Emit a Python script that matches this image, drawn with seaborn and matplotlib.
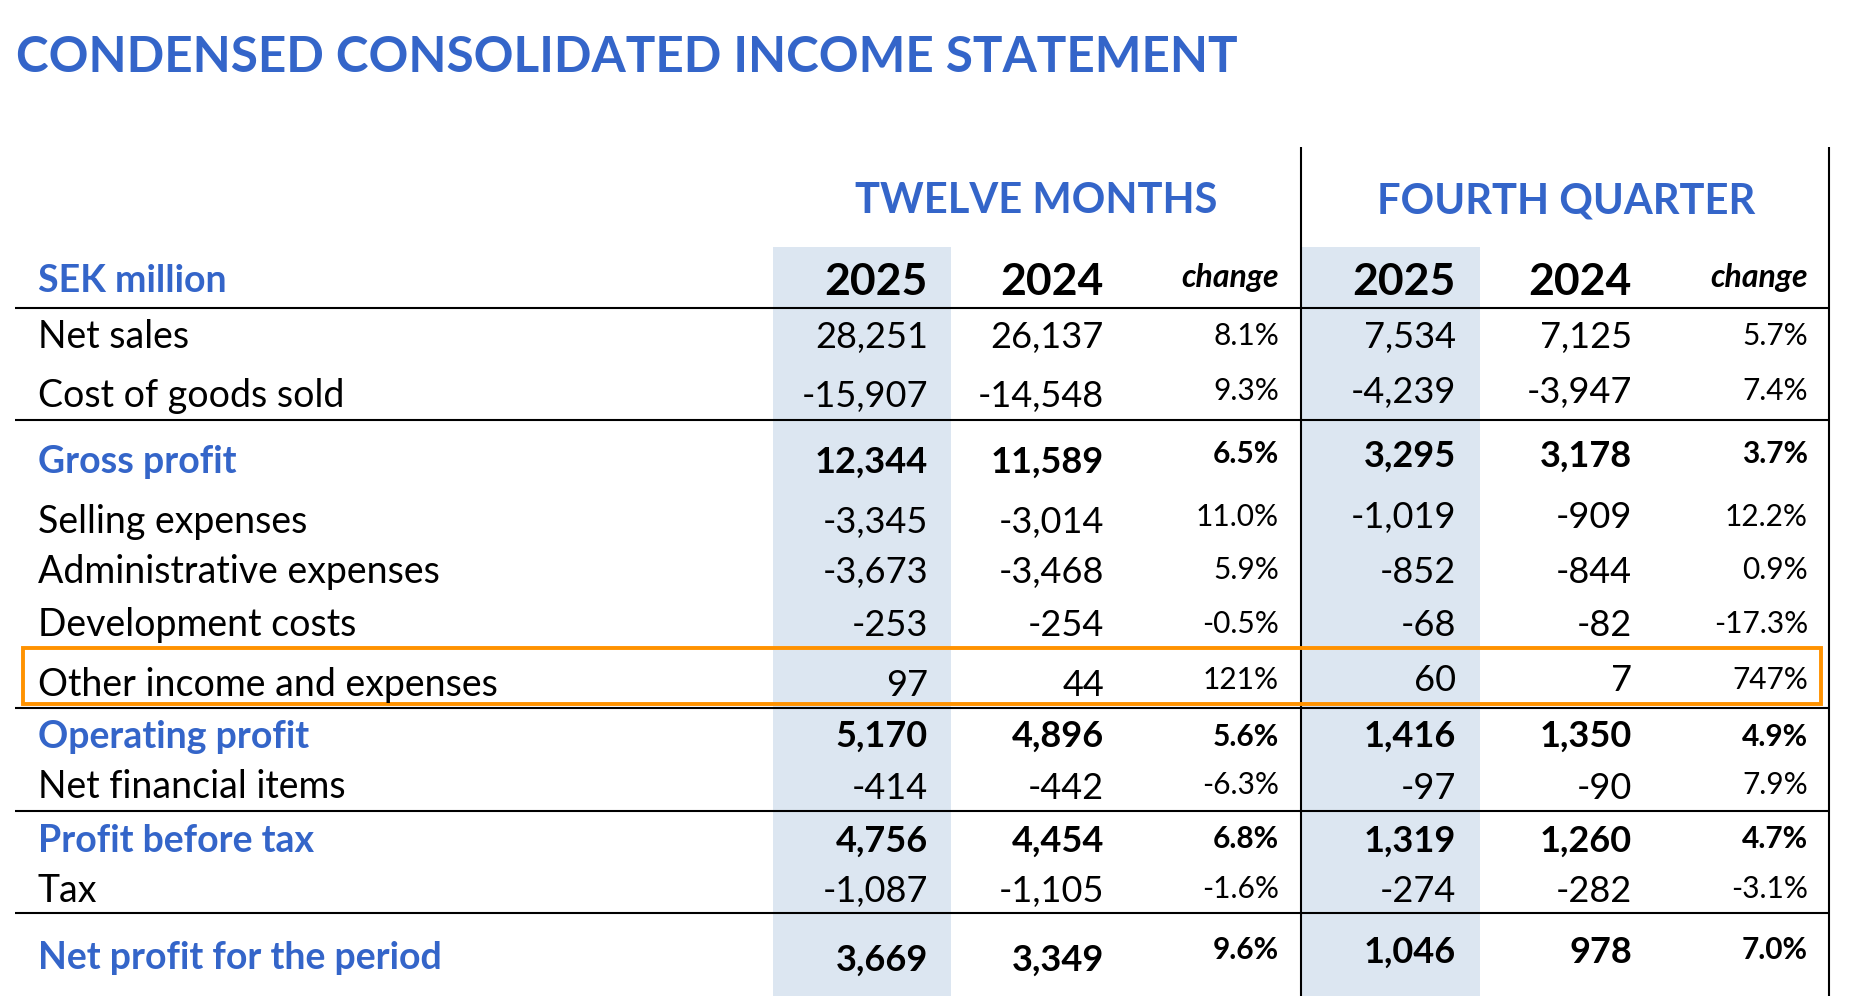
import matplotlib
matplotlib.use("Agg")
import matplotlib.pyplot as plt
import seaborn as sns
from matplotlib.patches import Rectangle

# ---------------- data ----------------
title = "CONDENSED CONSOLIDATED INCOME STATEMENT"
unit_label = "SEK million"
group_labels = ["TWELVE MONTHS", "FOURTH QUARTER"]
year_labels = ["2025", "2024"]
change_label = "change"

row_labels = [
    "Net sales", "Cost of goods sold", "Gross profit", "Selling expenses",
    "Administrative expenses", "Development costs", "Other income and expenses",
    "Operating profit", "Net financial items", "Profit before tax", "Tax",
    "Net profit for the period",
]
row_is_total = [False, False, True, False, False, False, False, True, False, True, False, True]

twelve_2025 = [28251, -15907, 12344, -3345, -3673, -253, 97, 5170, -414, 4756, -1087, 3669]
twelve_2024 = [26137, -14548, 11589, -3014, -3468, -254, 44, 4896, -442, 4454, -1105, 3349]
twelve_change = [8.1, 9.3, 6.5, 11.0, 5.9, -0.5, 121, 5.6, -6.3, 6.8, -1.6, 9.6]
q4_2025 = [7534, -4239, 3295, -1019, -852, -68, 60, 1416, -97, 1319, -274, 1046]
q4_2024 = [7125, -3947, 3178, -909, -844, -82, 7, 1350, -90, 1260, -282, 978]
q4_change = [5.7, 7.4, 3.7, 12.2, 0.9, -17.3, 747, 4.9, 7.9, 4.7, -3.1, 7.0]
highlight_row = "Other income and expenses"

# ---------------- layout (pixel coordinates) ----------------
W, H = 1850, 996
BLUE = "#3465C9"
SHADE = "#DCE6F1"
ORANGE = "#FF9200"

y_label = [348, 407, 473, 533, 583, 636, 696, 748, 798, 852, 902, 969]
y_12m = [348, 407, 473, 533, 583, 636, 696, 747, 799, 852, 902, 971]
y_chg = [345, 400, 463, 526, 579, 633, 689, 746, 794, 848, 898, 959]
y_q4 = [348, 403, 467, 528, 583, 636, 691, 747, 799, 852, 902, 963]

x_label = 38
x_cols = [928, 1104, 1279, 1456, 1632, 1808]

def fmt_num(v):
    return f"{v:,}"

def fmt_pct(v):
    return f"{v:.0f}%" if abs(v) >= 100 else f"{v:.1f}%"

sns.set_theme(style="white")
plt.rcParams["font.family"] = ["Lato", "DejaVu Sans"]

fig = plt.figure(figsize=(W / 100, H / 100), dpi=100)
ax = fig.add_axes([0, 0, 1, 1])
ax.set_xlim(0, W)
ax.set_ylim(H, 0)
ax.axis("off")

# shaded "2025" columns
for x0, x1 in [(773, 951), (1301, 1480)]:
    ax.add_patch(Rectangle((x0, 247), x1 - x0, H - 247, facecolor=SHADE, edgecolor="none", zorder=0))

# rules
lw = 1.5
for y in [308, 420, 708, 811, 913]:
    ax.plot([15, 1829], [y, y], color="black", lw=lw, zorder=2, solid_capstyle="butt")
for x in [1301, 1829]:
    ax.plot([x, x], [147, H], color="black", lw=lw, zorder=2, solid_capstyle="butt")

# highlight box
ax.add_patch(Rectangle((23, 648), 1821 - 23, 704 - 648, facecolor="none",
                       edgecolor=ORANGE, lw=2.8, zorder=3))

# title
ax.text(16, 72, title, fontsize=35.6, fontweight="bold", color=BLUE, va="baseline", ha="left")

# group headers
ax.text(1036, 213, group_labels[0], fontsize=30, fontweight="bold", color=BLUE, va="baseline", ha="center")
ax.text(1566, 213, group_labels[1], fontsize=30, fontweight="bold", color=BLUE, va="baseline", ha="center")

# column headers
ax.text(x_label, 292, unit_label, fontsize=27, fontweight="bold", color=BLUE, va="baseline", ha="left")
for i, lab in enumerate([year_labels[0], year_labels[1], change_label] * 2):
    if lab == change_label:
        ax.text(x_cols[i], 287, lab, fontsize=23, fontweight="bold", fontstyle="italic",
                color="black", va="baseline", ha="right")
    else:
        ax.text(x_cols[i], 295, lab, fontsize=32, fontweight="bold", color="black",
                va="baseline", ha="right")

# body
for r, lab in enumerate(row_labels):
    bold = row_is_total[r]
    fw = "bold" if bold else "normal"
    ax.text(x_label, y_label[r], lab, fontsize=27, fontweight=fw,
            color=BLUE if bold else "black", va="baseline", ha="left", zorder=4)
    cells = [
        (fmt_num(twelve_2025[r]), y_12m[r], 26),
        (fmt_num(twelve_2024[r]), y_12m[r], 26),
        (fmt_pct(twelve_change[r]), y_chg[r], 21.5),
        (fmt_num(q4_2025[r]), y_q4[r], 26),
        (fmt_num(q4_2024[r]), y_q4[r], 26),
        (fmt_pct(q4_change[r]), y_chg[r], 21.5),
    ]
    for c, (txt, y, fs) in enumerate(cells):
        ax.text(x_cols[c], y, txt, fontsize=fs, fontweight=fw, color="black",
                va="baseline", ha="right", zorder=4)

fig.savefig("out.png", dpi=100, facecolor="white")
